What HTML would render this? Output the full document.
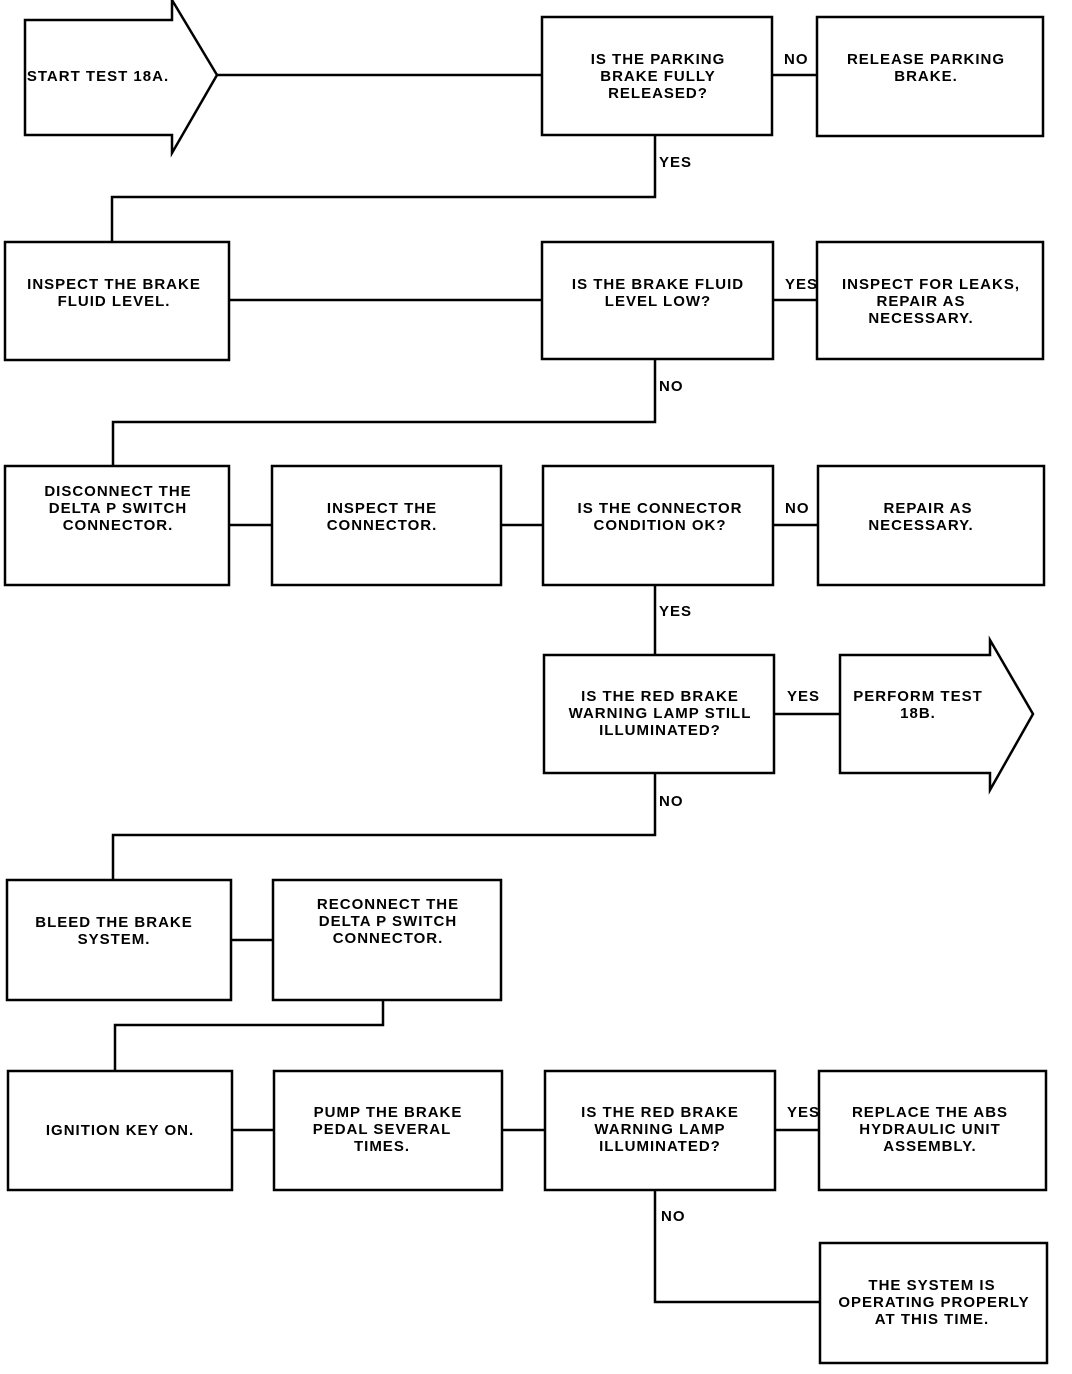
<!DOCTYPE html>
<html><head><meta charset="utf-8"><style>
html,body{margin:0;padding:0;background:#fff}
svg{display:block}
text{font-family:"Liberation Sans",sans-serif;font-weight:bold;font-size:15px;fill:#000;letter-spacing:1px}
</style></head><body>
<svg width="1072" height="1374" viewBox="0 0 1072 1374" xmlns="http://www.w3.org/2000/svg">
<g fill="none" stroke="#000" stroke-width="2.5">
<polygon points="25,20 172,20 172,0 217,75 172,153 172,135 25,135"/>
<polygon points="840,655 990,655 990,640 1033,714 990,790 990,773 840,773"/>
<rect x="542" y="17" width="230" height="118"/>
<rect x="817" y="17" width="226" height="119"/>
<rect x="5" y="242" width="224" height="118"/>
<rect x="542" y="242" width="231" height="117"/>
<rect x="817" y="242" width="226" height="117"/>
<rect x="5" y="466" width="224" height="119"/>
<rect x="272" y="466" width="229" height="119"/>
<rect x="543" y="466" width="230" height="119"/>
<rect x="818" y="466" width="226" height="119"/>
<rect x="544" y="655" width="230" height="118"/>
<rect x="7" y="880" width="224" height="120"/>
<rect x="273" y="880" width="228" height="120"/>
<rect x="8" y="1071" width="224" height="119"/>
<rect x="274" y="1071" width="228" height="119"/>
<rect x="545" y="1071" width="230" height="119"/>
<rect x="819" y="1071" width="227" height="119"/>
<rect x="820" y="1243" width="227" height="120"/>
<polyline points="217,75 542,75"/>
<polyline points="772,75 817,75"/>
<polyline points="655,135 655,197 112,197 112,242"/>
<polyline points="229,300 542,300"/>
<polyline points="773,300 817,300"/>
<polyline points="655,359 655,422 113,422 113,466"/>
<polyline points="229,525 272,525"/>
<polyline points="501,525 543,525"/>
<polyline points="773,525 818,525"/>
<polyline points="655,585 655,655"/>
<polyline points="774,714 840,714"/>
<polyline points="655,773 655,835 113,835 113,880"/>
<polyline points="231,940 273,940"/>
<polyline points="383,1000 383,1025 115,1025 115,1071"/>
<polyline points="232,1130 274,1130"/>
<polyline points="502,1130 545,1130"/>
<polyline points="775,1130 819,1130"/>
<polyline points="655,1190 655,1302 820,1302"/>
</g>
<g text-anchor="middle">
<text x="98" y="81">START TEST 18A.</text>
<text x="658" y="64">IS THE PARKING</text><text x="658" y="81">BRAKE FULLY</text><text x="658" y="98">RELEASED?</text>
<text x="926" y="64">RELEASE PARKING</text><text x="926" y="81">BRAKE.</text>
<text x="114" y="289">INSPECT THE BRAKE</text><text x="114" y="306">FLUID LEVEL.</text>
<text x="658" y="289">IS THE BRAKE FLUID</text><text x="658" y="306">LEVEL LOW?</text>
<text x="931" y="289">INSPECT FOR LEAKS,</text><text x="921" y="306">REPAIR AS</text><text x="921" y="323">NECESSARY.</text>
<text x="118" y="496">DISCONNECT THE</text><text x="118" y="513">DELTA P SWITCH</text><text x="118" y="530">CONNECTOR.</text>
<text x="382" y="513">INSPECT THE</text><text x="382" y="530">CONNECTOR.</text>
<text x="660" y="513">IS THE CONNECTOR</text><text x="660" y="530">CONDITION OK?</text>
<text x="928" y="513">REPAIR AS</text><text x="921" y="530">NECESSARY.</text>
<text x="660" y="701">IS THE RED BRAKE</text><text x="660" y="718">WARNING LAMP STILL</text><text x="660" y="735">ILLUMINATED?</text>
<text x="918" y="701">PERFORM TEST</text><text x="918" y="718">18B.</text>
<text x="114" y="927">BLEED THE BRAKE</text><text x="114" y="944">SYSTEM.</text>
<text x="388" y="909">RECONNECT THE</text><text x="388" y="926">DELTA P SWITCH</text><text x="388" y="943">CONNECTOR.</text>
<text x="120" y="1135">IGNITION KEY ON.</text>
<text x="388" y="1117">PUMP THE BRAKE</text><text x="382" y="1134">PEDAL SEVERAL</text><text x="382" y="1151">TIMES.</text>
<text x="660" y="1117">IS THE RED BRAKE</text><text x="660" y="1134">WARNING LAMP</text><text x="660" y="1151">ILLUMINATED?</text>
<text x="930" y="1117">REPLACE THE ABS</text><text x="930" y="1134">HYDRAULIC UNIT</text><text x="930" y="1151">ASSEMBLY.</text>
<text x="932" y="1290">THE SYSTEM IS</text><text x="934" y="1307">OPERATING PROPERLY</text><text x="932" y="1324">AT THIS TIME.</text>
</g>
<g>
<text x="784" y="64">NO</text>
<text x="659" y="167">YES</text>
<text x="785" y="289">YES</text>
<text x="659" y="391">NO</text>
<text x="785" y="513">NO</text>
<text x="659" y="616">YES</text>
<text x="787" y="701">YES</text>
<text x="659" y="806">NO</text>
<text x="787" y="1117">YES</text>
<text x="661" y="1221">NO</text>
</g>
</svg>
</body></html>
